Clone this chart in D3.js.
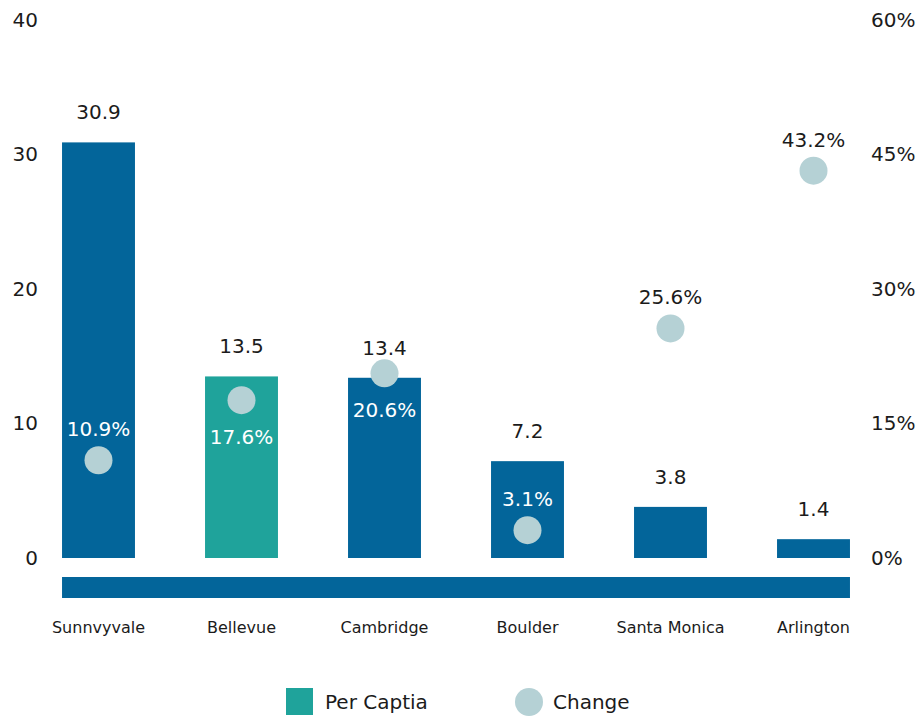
<!DOCTYPE html>
<html>
<head>
<meta charset="utf-8">
<script src="https://cdn.jsdelivr.net/npm/d3@7/dist/d3.min.js"></script>
<style>
  html, body { margin: 0; padding: 0; background: #ffffff; }
  svg { display: block; font-family: "DejaVu Sans", sans-serif; }
</style>
</head>
<body>
<svg id="chart" width="918" height="717"></svg>
<script>
// Per-capita values (left axis) and change in percent (right axis) by city
const cities = ["Sunnvyvale", "Bellevue", "Cambridge", "Boulder", "Santa Monica", "Arlington"];
const perCapita = [30.9, 13.5, 13.4, 7.2, 3.8, 1.4];
const change = [10.9, 17.6, 20.6, 3.1, 25.6, 43.2];
const highlighted = ["Bellevue"];
const leftTicks = [0, 10, 20, 30, 40];
const rightTicks = [0, 15, 30, 45, 60];
const legendLabels = ["Per Captia", "Change"];

const BLUE = "#03659a";
const TEAL = "#1fa39b";
const DOT = "#b5d1d5";
const INK = "#1b1b1b";

const rows = cities.map((c, i) => ({ city: c, value: perCapita[i], change: change[i] }));

const svg = d3.select("#chart");

const x = d3.scaleBand()
  .domain(cities)
  .range([27, 885])
  .paddingInner(0.49)
  .paddingOuter(0.245);

const yLeft = d3.scaleLinear().domain([0, 40]).range([558, 20]);
const yRight = d3.scaleLinear().domain([0, 60]).range([558, 20]);

// Axes: labels only, no lines
const leftAxis = svg.append("g")
  .attr("transform", "translate(38,0)")
  .call(d3.axisLeft(yLeft).tickValues(leftTicks).tickSize(0).tickPadding(0));
const rightAxis = svg.append("g")
  .attr("transform", "translate(871,0)")
  .call(d3.axisRight(yRight).tickValues(rightTicks).tickFormat(d => d + "%").tickSize(0).tickPadding(0));
[leftAxis, rightAxis].forEach(g => {
  g.select(".domain").remove();
  g.selectAll("text")
    .attr("font-family", "DejaVu Sans, sans-serif")
    .attr("font-size", 20)
    .attr("fill", INK);
});

// Base strip under the bars
svg.append("rect")
  .attr("x", x(cities[0]))
  .attr("width", x(cities[cities.length - 1]) + x.bandwidth() - x(cities[0]))
  .attr("y", 577)
  .attr("height", 21)
  .attr("fill", BLUE);

// Bars
svg.append("g").selectAll("rect")
  .data(rows)
  .join("rect")
  .attr("x", d => x(d.city))
  .attr("width", x.bandwidth())
  .attr("y", d => yLeft(d.value))
  .attr("height", d => yLeft(0) - yLeft(d.value))
  .attr("fill", d => highlighted.includes(d.city) ? TEAL : BLUE);

// Bar value labels
svg.append("g").selectAll("text")
  .data(rows)
  .join("text")
  .attr("x", d => x(d.city) + x.bandwidth() / 2)
  .attr("y", d => yLeft(d.value) - 30)
  .attr("dy", "0.35em")
  .attr("text-anchor", "middle")
  .attr("font-size", 20)
  .attr("fill", INK)
  .text(d => d.value.toFixed(1));

// Change dots
svg.append("g").selectAll("circle")
  .data(rows)
  .join("circle")
  .attr("cx", d => x(d.city) + x.bandwidth() / 2)
  .attr("cy", d => yRight(d.change))
  .attr("r", 14)
  .attr("fill", DOT);

// Change labels: above the dot, or below it when the dot sits near the bar top
svg.append("g").selectAll("text")
  .data(rows)
  .join("text")
  .each(function (d) {
    const cy = yRight(d.change);
    const top = yLeft(d.value);
    const below = Math.abs(cy - top) < 40;
    const ty = below ? cy + 37 : cy - 31;
    const inside = ty > top;
    d3.select(this)
      .attr("x", x(d.city) + x.bandwidth() / 2)
      .attr("y", ty)
      .attr("fill", inside ? "#ffffff" : INK);
  })
  .attr("dy", "0.35em")
  .attr("text-anchor", "middle")
  .attr("font-size", 20)
  .text(d => d.change.toFixed(1) + "%");

// Category labels
svg.append("g").selectAll("text")
  .data(cities)
  .join("text")
  .attr("x", d => x(d) + x.bandwidth() / 2)
  .attr("y", 627)
  .attr("dy", "0.35em")
  .attr("text-anchor", "middle")
  .attr("font-size", 16)
  .attr("fill", INK)
  .text(d => d);

// Legend
const legend = svg.append("g");
legend.append("rect")
  .attr("x", 286).attr("y", 688).attr("width", 27).attr("height", 27)
  .attr("fill", TEAL);
legend.append("text")
  .attr("x", 325).attr("y", 702).attr("dy", "0.35em")
  .attr("font-size", 20).attr("fill", INK)
  .text(legendLabels[0]);
legend.append("circle")
  .attr("cx", 529).attr("cy", 702).attr("r", 14)
  .attr("fill", DOT);
legend.append("text")
  .attr("x", 553).attr("y", 702).attr("dy", "0.35em")
  .attr("font-size", 20).attr("fill", INK)
  .text(legendLabels[1]);
</script>
</body>
</html>
